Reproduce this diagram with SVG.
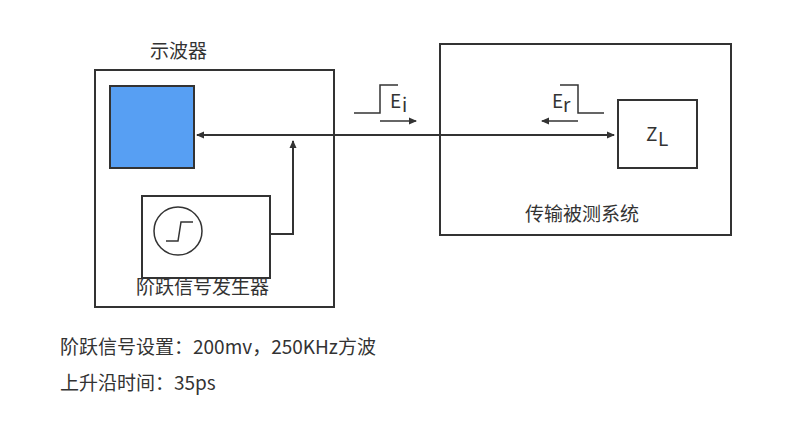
<svg xmlns="http://www.w3.org/2000/svg" width="812" height="422" viewBox="0 0 812 422">
<style>
.b{fill:none;stroke:#333;stroke-width:2}
.l{fill:none;stroke:#333;stroke-width:1.5}
text{font-family:"Noto Sans CJK SC","Noto Sans",sans-serif;fill:#333;font-size:19px}
</style>
<defs><marker id="a" markerWidth="8" markerHeight="8" refX="7" refY="4" orient="auto" markerUnits="userSpaceOnUse"><path d="M0,0.5L8,4L0,7.5z" fill="#333"/></marker></defs>
<rect width="812" height="422" fill="#fff"/>
<g id="scope"><rect class="b" x="95" y="70" width="239" height="237"/><text x="150" y="58">示波器</text></g>
<g id="screen"><rect x="110" y="86" width="84" height="82" fill="#579ff3" stroke="#333" stroke-width="2"/></g>
<g id="gen"><rect class="b" x="142" y="196" width="128" height="82"/><circle class="l" cx="178" cy="231" r="24"/><path class="l" d="M166,241H178L181,222H193"/><text x="136" y="294">阶跃信号发生器</text></g>
<g id="sys"><rect class="b" x="440" y="44" width="291" height="191"/><text x="525" y="221">传输被测系统</text></g>
<g id="zl"><rect class="b" x="618" y="100" width="79" height="68"/><text x="646" y="141" font-size="19">Z</text><text x="658" y="146" font-size="11">L</text></g>
<g id="connectors">
<path class="b" d="M270,234H293V141" marker-end="url(#a)"/>
<path class="b" d="M293,135H197" marker-end="url(#a)"/>
<path class="b" d="M293,135H614" marker-end="url(#a)"/>
<path class="l" d="M354,113H380V85H398"/><text x="390" y="108" font-size="18">E</text><text x="402" y="112" font-size="11">i</text>
<path class="l" d="M380,121H416" marker-end="url(#a)"/>
<path class="l" d="M560,85H578V113H604"/><text x="552" y="108" font-size="18">E</text><text x="563" y="112" font-size="11">r</text>
<path class="l" d="M578,121H542" marker-end="url(#a)"/>
</g>
<text x="60" y="354">阶跃信号设置：200mv，250KHz方波</text>
<text x="60" y="390">上升沿时间：35ps</text>
</svg>
